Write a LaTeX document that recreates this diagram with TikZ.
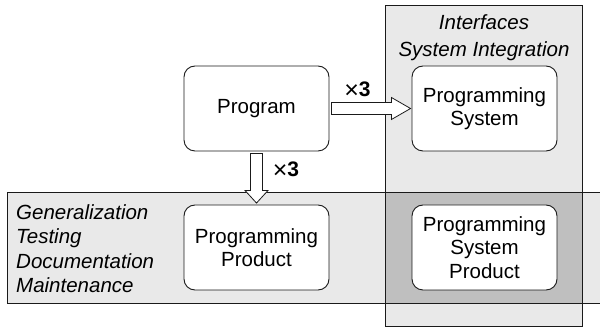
\documentclass[tikz,border=0pt]{standalone}
\usepackage{fontspec}
\setmainfont{Liberation Sans}
\definecolor{lightg}{HTML}{E9E9E9}
\definecolor{darkg}{HTML}{BFBFBF}
\definecolor{edge}{HTML}{1A1A1A}
\newcommand{\timesthree}{\raisebox{-2pt}{\fontsize{25}{25}\selectfont ×}\textbf{3}}
\begin{document}
\begin{tikzpicture}[x=1pt,y=-1pt,
  box/.style={draw=edge,line width=0.9pt,fill=white,rounded corners=11pt,minimum width=145pt,minimum height=85pt,align=center,inner sep=0pt,font=\fontsize{20.5}{23.5}\selectfont},
  lbl/.style={font=\fontsize{20.5}{24.5}\selectfont\itshape,inner sep=0pt},
  times/.style={font=\fontsize{21}{23}\selectfont,inner sep=0pt},
  blockarrow/.style={draw=edge,line width=0.8pt,fill=white,line join=miter}]
\useasboundingbox (0,0) rectangle (600,328);
% band and column
\fill[lightg] (7,192.7) rectangle (602,303.3);
\fill[lightg] (385,5) rectangle (582.7,326);
\fill[darkg] (385,192.7) rectangle (582.7,303.3);
\draw[edge,line width=0.9pt] (602,192.7) -- (7,192.7) -- (7,303.3) -- (602,303.3);
\draw[edge,line width=0.9pt] (385,5) rectangle (582.7,326);
% texts
\node[lbl,align=center,font=\fontsize{20.5}{27}\selectfont\itshape] (iface) at (484,37.5) {Interfaces\\System Integration};
\node[lbl,align=left,anchor=west] (gen) at (16,248.5) {Generalization\\Testing\\Documentation\\Maintenance};
% boxes
\node[box] (prog) at (256.5,108.5) {Program};
\node[box] (psys) at (484.5,108.5) {Programming\\System};
\node[box] (pprod) at (256.5,247.5) {Programming\\Product};
\node[box] (psp) at (484.5,247.5) {Programming\\System\\Product};
% block arrows
\coordinate (ra) at (prog.east);
\draw[blockarrow] ([xshift=2pt,yshift=6pt]ra) -- ++(60,0) -- ++(0,-5) -- ([xshift=-1pt]psys.west) -- ([xshift=62pt,yshift=-11pt]ra) -- ++(0,-5) -- ([xshift=2pt,yshift=-6pt]ra) -- cycle;
\coordinate (da) at (prog.south);
\draw[blockarrow] ([xshift=-6pt,yshift=-2pt]da) -- ++(0,37) -- ++(-5.5,0) -- ([yshift=1.5pt]pprod.north) -- ([xshift=11.5pt,yshift=-39pt]da) -- ++(-5.5,0) -- ([xshift=6pt,yshift=-2pt]da) -- cycle;
% labels
\node[times] (t1) at (357.5,90.5) {\timesthree};
\node[times] (t2) at (286,170.5) {\timesthree};
\end{tikzpicture}
\end{document}
